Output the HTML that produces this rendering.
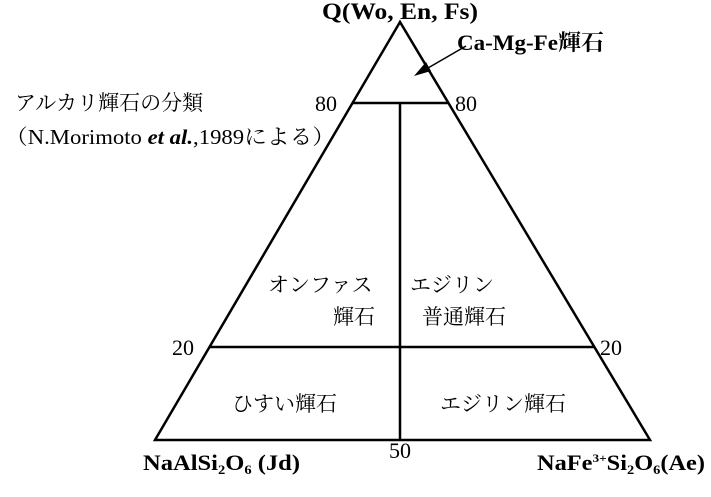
<!DOCTYPE html>
<html><head><meta charset="utf-8"><style>
body{margin:0;background:#fff;}
svg text{font-family:"Liberation Serif","Noto Serif CJK SC",serif;fill:#000;}
</style></head><body>
<svg width="711" height="492" viewBox="0 0 711 492" xmlns="http://www.w3.org/2000/svg">
<g stroke="#000" stroke-width="2.5" fill="none">
<polygon points="400,22 155,440 650,440"/>
<line x1="353" y1="103" x2="448" y2="103"/>
<line x1="210" y1="347" x2="594" y2="347"/>
<line x1="400" y1="103" x2="400" y2="440"/>
<line x1="466" y1="46" x2="428" y2="68" stroke-width="1.5"/>
</g>
<polygon points="414,76 426,62 431,71" fill="#000"/>
<text x="322" y="19" font-size="23" font-weight="bold" textLength="156" lengthAdjust="spacingAndGlyphs">Q(Wo, En, Fs)</text>
<text x="457" y="50" font-size="22" font-weight="bold" textLength="147" lengthAdjust="spacingAndGlyphs">Ca-Mg-Fe輝石</text>
<text x="15" y="110" font-size="21">アルカリ輝石の分類</text>
<text x="5" y="144" font-size="21" textLength="330" lengthAdjust="spacingAndGlyphs">（N.Morimoto <tspan font-style="italic" font-weight="bold">et al.</tspan>,1989による）</text>
<text x="315" y="111" font-size="22">80</text>
<text x="455" y="111" font-size="22">80</text>
<text x="172" y="355" font-size="22">20</text>
<text x="600" y="355" font-size="22">20</text>
<text x="268" y="292" font-size="21">オンファス</text>
<text x="333" y="324" font-size="21">輝石</text>
<text x="410" y="292" font-size="21">エジリン</text>
<text x="422" y="324" font-size="21">普通輝石</text>
<text x="232" y="411" font-size="21">ひすい輝石</text>
<text x="440" y="411" font-size="21">エジリン輝石</text>
<text x="389" y="458" font-size="22">50</text>
<text x="143" y="470" font-size="22" font-weight="bold" textLength="157" lengthAdjust="spacingAndGlyphs">NaAlSi<tspan font-size="13" dy="4">2</tspan><tspan dy="-4">O</tspan><tspan font-size="13" dy="4">6</tspan><tspan dy="-4"> (Jd)</tspan></text>
<text x="537" y="470" font-size="22" font-weight="bold" textLength="168" lengthAdjust="spacingAndGlyphs">NaFe<tspan font-size="12" dy="-8">3+</tspan><tspan dy="8">Si</tspan><tspan font-size="13" dy="4">2</tspan><tspan dy="-4">O</tspan><tspan font-size="13" dy="4">6</tspan><tspan dy="-4">(Ae)</tspan></text>
</svg>
</body></html>
